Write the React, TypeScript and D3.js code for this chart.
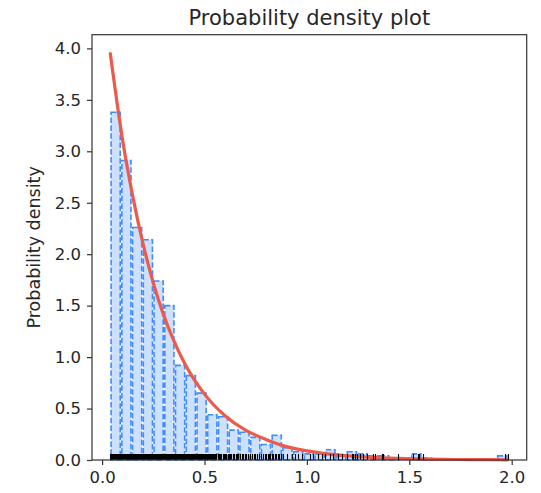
import React, { useEffect, useRef } from "react"
import * as d3 from "d3"

// histogram: density of each bin, bins run evenly from dataMin to dataMax
const dataMin = 0.04
const dataMax = 1.98
const binHeights = [
	3.38, 2.91, 2.26, 2.14, 1.74, 1.5, 0.92, 0.82, 0.65, 0.44, 0.42, 0.29, 0.27,
	0.22, 0.15, 0.24, 0.12, 0.08, 0.06, 0.06, 0.1, 0.04, 0.08, 0.06, 0.04, 0.04,
	0.02, 0, 0.06, 0.02, 0, 0, 0, 0, 0, 0, 0.04,
]

// fitted density curve
const curveX = [
	0.04, 0.1, 0.15, 0.2, 0.25, 0.3, 0.35, 0.4, 0.5, 0.6, 0.7, 0.8, 0.9, 1.0,
	1.2, 1.4, 1.6, 1.8, 1.98,
]
const curveY = [
	3.95, 3.11, 2.56, 2.1, 1.72, 1.41, 1.16, 0.95, 0.64, 0.43, 0.29, 0.2, 0.13,
	0.089, 0.04, 0.018, 0.008, 0.004, 0.002,
]

// rug of the samples
const rugValues = `0.040 0.044 0.049 0.053 0.058 0.062 0.067 0.071 0.076 0.081 0.085 0.090
0.094 0.099 0.103 0.108 0.112 0.117 0.121 0.126 0.131 0.135 0.140 0.144 0.149 0.153 0.158
0.162 0.167 0.172 0.176 0.181 0.185 0.190 0.194 0.199 0.204 0.208 0.213 0.217 0.222 0.226
0.231 0.236 0.240 0.245 0.249 0.254 0.258 0.263 0.268 0.272 0.277 0.281 0.286 0.291 0.295
0.300 0.304 0.309 0.314 0.318 0.323 0.327 0.332 0.337 0.341 0.346 0.350 0.355 0.360 0.364
0.369 0.374 0.378 0.383 0.388 0.392 0.397 0.402 0.406 0.411 0.416 0.420 0.425 0.430 0.435
0.439 0.444 0.449 0.454 0.458 0.463 0.468 0.473 0.478 0.482 0.487 0.492 0.497 0.502 0.507
0.512 0.517 0.522 0.527 0.532 0.537 0.542 0.548 0.553 0.558 0.565 0.571 0.577 0.582 0.589
0.595 0.601 0.606 0.613 0.619 0.626 0.631 0.638 0.645 0.652 0.660 0.666 0.674 0.681 0.690
0.697 0.705 0.712 0.722 0.731 0.740 0.748 0.757 0.768 0.776 0.785 0.795 0.802 0.808 0.815
0.821 0.829 0.836 0.842 0.850 0.857 0.865 0.872 0.885 0.901 0.926 0.942 0.958 0.975 1.015
1.031 1.056 1.072 1.088 1.113 1.129 1.153 1.170 1.194 1.219 1.227 1.235 1.243 1.259 1.275
1.292 1.324 1.332 1.365 1.370 1.446 1.520 1.544 1.549 1.568 1.967 1.980`
	.trim()
	.split(/\s+/)
	.map(Number)

const xTicks = [0, 0.5, 1, 1.5, 2]
const yTicks = [0, 0.5, 1, 1.5, 2, 2.5, 3, 3.5, 4]

const App = () => {
	const svgRef = useRef(null)

	useEffect(() => {
		const width = 541
		const height = 493
		const margin = { top: 34.7, right: 14.3, bottom: 33, left: 92 }
		const font = "DejaVu Sans, sans-serif"
		const ink = "#262626"

		const svg = d3.select(svgRef.current)
		svg.selectAll("*").remove()

		const x = d3
			.scaleLinear()
			.domain([-0.0493, 2.0732])
			.range([margin.left, width - margin.right])
		const y = d3
			.scaleLinear()
			.domain([0, 4.133])
			.range([height - margin.bottom, margin.top])

		// bars
		const binWidth = (dataMax - dataMin) / binHeights.length
		const bins = binHeights
			.map((h, i) => ({
				x0: dataMin + i * binWidth,
				x1: dataMin + (i + 1) * binWidth,
				h,
			}))
			.filter((b) => b.h > 0)

		svg.append("g")
			.selectAll("rect")
			.data(bins)
			.join("rect")
			.attr("x", (d) => x(d.x0) + 0.8)
			.attr("width", (d) => x(d.x1) - x(d.x0) - 1.6)
			.attr("y", (d) => y(d.h))
			.attr("height", (d) => y(0) - y(d.h))
			.attr("fill", "#cde1ff")
			.attr("stroke", "#3f8cff")
			.attr("stroke-width", 1.6)
			.attr("stroke-dasharray", "5.5,2.4")

		// density curve
		const line = d3
			.line<number>()
			.x((d, i) => x(curveX[i]))
			.y((d) => y(d))
			.curve(d3.curveMonotoneX)
		svg.append("path")
			.attr("d", line(curveY))
			.attr("fill", "none")
			.attr("stroke", "#ec5a4b")
			.attr("stroke-width", 3.2)
			.attr("stroke-linecap", "round")

		// rug
		svg.append("g")
			.selectAll("line")
			.data(rugValues)
			.join("line")
			.attr("x1", (d) => Math.round(x(d)) + 0.5)
			.attr("x2", (d) => Math.round(x(d)) + 0.5)
			.attr("y1", y(0) - 6)
			.attr("y2", y(0))
			.attr("stroke", "#000")
			.attr("stroke-width", 1.1)

		// axes
		const xAxis = svg
			.append("g")
			.attr("transform", `translate(0, ${y(0)})`)
			.call(
				d3
					.axisBottom(x)
					.tickValues(xTicks)
					.tickFormat(d3.format(".1f"))
					.tickSize(5)
					.tickPadding(6.5)
			)
		const yAxis = svg
			.append("g")
			.attr("transform", `translate(${margin.left}, 0)`)
			.call(
				d3
					.axisLeft(y)
					.tickValues(yTicks)
					.tickFormat(d3.format(".1f"))
					.tickSize(5)
					.tickPadding(6)
			)
		;[xAxis, yAxis].forEach((g) => {
			g.select(".domain").remove()
			g.selectAll("line").attr("stroke", "#333").attr("stroke-width", 1.2)
			g.selectAll("text")
				.attr("fill", ink)
				.style("font-family", font)
				.style("font-size", "16.5px")
		})

		// frame
		svg.append("rect")
			.attr("x", margin.left)
			.attr("y", margin.top)
			.attr("width", width - margin.right - margin.left)
			.attr("height", y(0) - margin.top)
			.attr("fill", "none")
			.attr("stroke", "#333")
			.attr("stroke-width", 1.2)

		// labels
		svg.append("text")
			.attr("x", (margin.left + width - margin.right) / 2)
			.attr("y", 25)
			.attr("text-anchor", "middle")
			.attr("fill", ink)
			.style("font-family", font)
			.style("font-size", "21px")
			.text("Probability density plot")

		svg.append("text")
			.attr(
				"transform",
				`translate(40, ${(margin.top + y(0)) / 2}) rotate(-90)`
			)
			.attr("text-anchor", "middle")
			.attr("fill", ink)
			.style("font-family", font)
			.style("font-size", "17.5px")
			.text("Probability density")
	}, [])

	return (
		<div style={{ position: "absolute", left: 0, top: 0 }}>
			<svg ref={svgRef} width={541} height={493} style={{ display: "block" }} />
		</div>
	)
}

export default App
